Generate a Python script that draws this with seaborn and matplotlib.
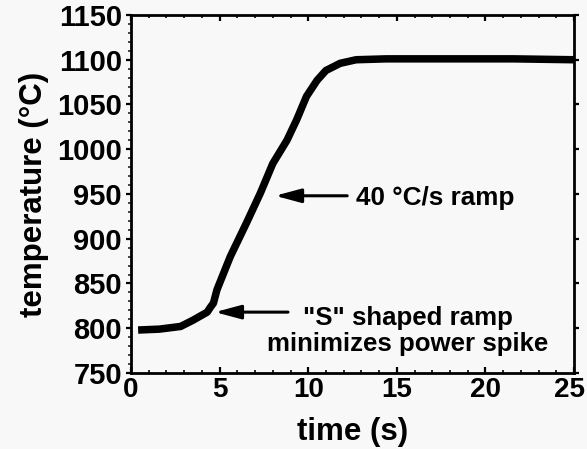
import matplotlib
matplotlib.use("Agg")
import matplotlib.pyplot as plt
from matplotlib.ticker import MultipleLocator
from matplotlib.transforms import ScaledTranslation
import seaborn as sns
import pandas as pd

# Measured furnace temperature during a controlled ramp
time_s = [0.4, 1.6, 2.8, 3.5, 4.3, 4.5, 4.65, 4.85, 5.6, 6.5, 7.3, 8.0,
          8.8, 9.35, 9.9, 10.5, 11.0, 11.8, 12.7, 14.4, 18.0, 21.6, 25.0]
temp_c = [798, 799, 802, 809, 818, 824, 828, 843, 880, 917, 951, 984,
          1010, 1033, 1059, 1077, 1088, 1096, 1100, 1101, 1101, 1101, 1100]

x_ticks = [0, 5, 10, 15, 20, 25]
y_ticks = [750, 800, 850, 900, 950, 1000, 1050, 1100, 1150]

ramp_label = "40 °C/s ramp"
s_label = "\"S\" shaped ramp\nminimizes power spike"

sns.set_theme(style="ticks")
plt.rcParams["font.family"] = ["Liberation Sans", "DejaVu Sans"]
plt.rcParams["font.weight"] = "bold"
plt.rcParams["text.color"] = "black"
plt.rcParams["axes.labelcolor"] = "black"

bg = "#f8f8f8"
fig = plt.figure(figsize=(5.87, 4.49), dpi=100, facecolor=bg)
ax = fig.add_axes([0.2232, 0.1693, 0.7547, 0.7973], facecolor=bg)

df = pd.DataFrame({"time": time_s, "temperature": temp_c})
sns.lineplot(data=df, x="time", y="temperature", ax=ax, color="black",
             linewidth=5.4, solid_capstyle="butt", solid_joinstyle="round")

ax.set_xlim(0, 25)
ax.set_ylim(750, 1150)
ax.set_xticks(x_ticks)
ax.set_yticks(y_ticks)
ax.xaxis.set_minor_locator(MultipleLocator(1))
ax.yaxis.set_minor_locator(MultipleLocator(10))

for side in ["left", "right", "top", "bottom"]:
    ax.spines[side].set_visible(True)
    ax.spines[side].set_color("black")
    ax.spines[side].set_linewidth(2.0)

ax.tick_params(axis="x", which="major", direction="in", length=4, width=1.6,
               top=True, bottom=True, pad=3, labelsize=20, colors="black")
ax.tick_params(axis="x", which="minor", direction="in", length=2.5, width=1.4,
               top=True, bottom=True)
ax.tick_params(axis="y", which="major", direction="out", length=3.5, width=1.6,
               left=True, right=True, pad=3, labelsize=21, colors="black")
ax.tick_params(axis="y", which="minor", direction="out", length=2, width=1.2,
               left=True, right=False)
for lab in ax.get_xticklabels() + ax.get_yticklabels():
    lab.set_fontweight("bold")
# keep the last time label inside the figure edge
last = ax.get_xticklabels()[-1]
last.set_transform(last.get_transform() +
                   ScaledTranslation(-5 / 100, 0, fig.dpi_scale_trans))

ax.set_xlabel("time (s)", fontsize=22.5, fontweight="bold", labelpad=10)
ax.set_ylabel("temperature (°C)", fontsize=22.5, fontweight="bold", labelpad=6)

arrow_style = dict(arrowstyle="-|>,head_length=1.3,head_width=0.35",
                   color="black", lw=2.2, shrinkA=0, shrinkB=0)
ax.annotate("", xy=(8.13, 948), xytext=(12.2, 948), arrowprops=arrow_style)
ax.text(12.7, 946, ramp_label, fontsize=18.8, fontweight="bold",
        ha="left", va="center")

ax.annotate("", xy=(4.74, 818), xytext=(8.86, 818), arrowprops=arrow_style)
ax.text(15.6, 797, s_label, fontsize=18.6, fontweight="bold",
        ha="center", va="center", linespacing=1.12)

fig.savefig("out.png", dpi=100, facecolor=bg)
